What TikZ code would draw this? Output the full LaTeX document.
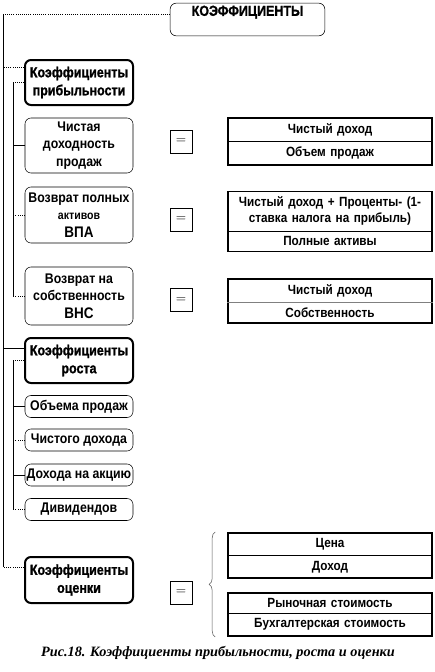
\documentclass[tikz,border=0pt]{standalone}
\usepackage{fontspec}
\setmainfont{Liberation Sans}[FakeStretch=0.88]
\newfontfamily\heavyfont{Liberation Sans Bold}[FakeStretch=0.88]
\newfontfamily\headfont{Liberation Sans Bold}[FakeStretch=0.86, FakeBold=1.2]
\newfontfamily\capfont{Liberation Serif}
\usetikzlibrary{positioning, calc, shapes.multipart, decorations.pathreplacing}

\tikzset{
	box/.style={draw, rounded corners=4.5pt, line width=0.4pt, minimum width=81pt,
		align=center, inner sep=1pt, font=\heavyfont\fontsize{10.5}{13}\selectfont},
	headbox/.style={box, line width=1.5pt, font=\headfont\fontsize{10.9}{13.5}\selectfont},
	topbox/.style={box, minimum width=116pt, text height=7.5pt, text depth=13pt,
		inner ysep=2pt, font=\headfont\fontsize{10.9}{13}\selectfont},
	smallbox/.style={box, minimum height=16.5pt},
	eqbox/.style={draw, line width=0.4pt, minimum width=16.5pt, minimum height=17.5pt,
		inner sep=0pt, font=\fontsize{10}{12}\selectfont},
	frac/.style={rectangle split, rectangle split parts=2, rectangle split draw splits=false,
		draw, line width=1.2pt, text width=149pt, align=center, inner xsep=2pt,
		inner ysep=3.5pt, font=\heavyfont\fontsize{10}{12}\selectfont},
	link/.style={line width=0.6pt},
	dlink/.style={link, densely dotted},
	brace/.style={decorate, decoration={brace, amplitude=4.5pt}, line width=0.4pt, gray!70!black}
}

\begin{document}
\begin{tikzpicture}[x=0.75pt,y=-0.75pt]
	\useasboundingbox (0,0) rectangle (435,672);
	\coordinate (spine) at (3,0);
	\coordinate (sub) at (13,0);
	% header
	\node[topbox] (koef) at (247.5,19.5) {КОЭФФИЦИЕНТЫ};
	% profitability
	\node[headbox, minimum height=33.75pt] (prib) at (79,82.5) {Коэффициенты\\прибыльности};
	\node[box, minimum height=41.25pt] (chist) at (79,145.5) {Чистая\\доходность\\продаж};
	\node[box, minimum height=42pt] (vpa) at (79,215) {Возврат полных\\{\fontsize{9}{11}\selectfont активов}\\{\fontsize{11.5}{13}\selectfont ВПА}};
	\node[box, minimum height=43.5pt] (vns) at (79,296) {Возврат на\\собственность\\{\fontsize{11.5}{13}\selectfont ВНС}};
	\node[eqbox] (eq1) at (181,141.5) {$=$};
	\node[eqbox] (eq2) at (181,219.5) {$=$};
	\node[eqbox] (eq3) at (181,300) {$=$};
	\node[frac] (f1) at (330,141.5) {Чистый доход\nodepart{two}Объем продаж};
	\node[frac] (f2) at (330,221.5) {Чистый доход + Проценты- (1-\\ставка налога на прибыль)\nodepart{two}Полные активы};
	\node[frac] (f3) at (330,301) {Чистый доход\nodepart{two}Собственность};
	\draw[line width=0.5pt] (f1.one split west) -- (f1.one split east);
	\draw[line width=0.5pt] (f2.one split west) -- (f2.one split east);
	\draw[line width=0.7pt, gray] (f3.one split west) -- (f3.one split east);
	% growth
	\node[headbox, minimum height=33.75pt] (rost) at (79,360.5) {Коэффициенты\\роста};
	\node[smallbox] (obem) at (79,406.5) {Объема продаж};
	\node[smallbox] (dohod) at (79,440) {Чистого дохода};
	\node[smallbox] (akc) at (79,475) {Дохода на акцию};
	\node[smallbox] (div) at (79,509.5) {Дивидендов};
	% valuation
	\node[headbox, minimum height=34.5pt] (ocen) at (79,580) {Коэффициенты\\оценки};
	\node[eqbox] (eq4) at (181,592.5) {$=$};
	\node[frac] (f4) at (330,555.5) {Цена\nodepart{two}Доход};
	\node[frac] (f5) at (330,614.5) {Рыночная стоимость\nodepart{two}Бухгалтерская стоимость};
	\draw[line width=0.5pt] (f4.one split west) -- (f4.one split east);
	\draw[line width=0.5pt] (f5.one split west) -- (f5.one split east);
	\draw[brace] ($(f5.south west)+(-12,0)$) -- ($(f4.north west)+(-12,0)$);
	% tree lines
	\coordinate (koefT) at ($(koef.north west)+(0,11)$);
	\coordinate (pribT) at ($(prib.north west)+(0,8)$);
	\coordinate (rostT) at ($(rost.north west)+(0,11)$);
	\coordinate (ocenT) at ($(ocen.north west)+(0,11)$);
	\draw[dlink] (koefT) -- (koefT -| spine);
	\draw[link] (koefT -| spine) -- (ocenT -| spine);
	\draw[dlink] (pribT) -- (pribT -| spine);
	\draw[link] (rostT) -- (rostT -| spine);
	\draw[dlink] (ocenT) -- (ocenT -| spine);
	\draw[dlink] (prib.west) -- (prib.west -| sub);
	\draw[link] (prib.west -| sub) -- (vns.west -| sub);
	\draw[link] (chist.west) -- (chist.west -| sub);
	\draw[dlink] (vpa.west) -- (vpa.west -| sub);
	\draw[dlink] (vns.west) -- (vns.west -| sub);
	\draw[dlink] (rost.west) -- (rost.west -| sub);
	\draw[link] (rost.west -| sub) -- (div.west -| sub);
	\draw[link] (obem.west) -- (obem.west -| sub);
	\draw[dlink] (dohod.west) -- (dohod.west -| sub);
	\draw[link] (akc.west) -- (akc.west -| sub);
	\draw[dlink] (div.west) -- (div.west -| sub);
	% caption
	\node[font=\capfont\bfseries\itshape\fontsize{10.7}{13}\selectfont] (cap) at (218,653)
		{Рис.18. Коэффициенты прибыльности, роста и оценки};
\end{tikzpicture}
\end{document}
